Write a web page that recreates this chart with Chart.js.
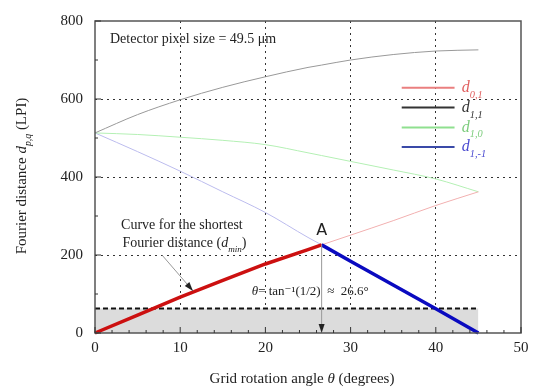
<!DOCTYPE html>
<html>
<head>
<meta charset="utf-8">
<script src="https://cdn.jsdelivr.net/npm/chart.js@4"></script>
<style>
  body { margin: 0; background: #fff; }
</style>
</head>
<body>
<canvas id="grafico" width="537" height="389"></canvas>
<script>
// angles (degrees) and Fourier distances (LPI)
const theta = [0, 5, 10, 15, 20, 25, 26.6, 30, 35, 40, 45];
const d01  = [0, 46, 92, 135, 177, 214, 226, 251, 288, 327, 362];
const d11  = [513, 560, 598, 630, 657, 681, 687, 700, 714, 723, 726];
const d10  = [513, 509, 502, 494, 483, 462, 455, 440, 418, 395, 362];
const d1m1 = [513, 465, 415, 362, 309, 245, 226, 184, 123, 62, 0];
const dLimit = 63;          // dashed level
const idxA = 6;             // point A (theta = 26.6)
const xTicks = [0, 10, 20, 30, 40, 50];
const yTicks = [0, 200, 400, 600, 800];

const pts = arr => theta.map((t, i) => ({ x: t, y: arr[i] }));
const serif = '"Liberation Serif", "DejaVu Serif", serif';

// draws text made of pieces: {t, italic, sub}
function richWidth(ctx, parts, size) {
  let w = 0;
  parts.forEach(p => {
    const s = p.sub ? size * 0.65 : size;
    ctx.font = (p.italic ? 'italic ' : '') + s + 'px ' + serif;
    w += ctx.measureText(p.t).width;
  });
  return w;
}
function richText(ctx, parts, x, y, size, color) {
  let cx = x;
  ctx.fillStyle = color;
  ctx.textBaseline = 'middle';
  ctx.textAlign = 'left';
  parts.forEach(p => {
    const s = p.sub ? size * 0.65 : size;
    ctx.font = (p.italic ? 'italic ' : '') + s + 'px ' + serif;
    ctx.fillText(p.t, cx, p.sub ? y + size * 0.45 : y);
    cx += ctx.measureText(p.t).width;
  });
}
function arrowHead(ctx, x1, y1, x2, y2, len, wid) {
  const a = Math.atan2(y2 - y1, x2 - x1);
  ctx.beginPath();
  ctx.moveTo(x2, y2);
  ctx.lineTo(x2 - len * Math.cos(a) + wid * Math.sin(a), y2 - len * Math.sin(a) - wid * Math.cos(a));
  ctx.lineTo(x2 - len * Math.cos(a) - wid * Math.sin(a), y2 - len * Math.sin(a) + wid * Math.cos(a));
  ctx.closePath();
  ctx.fill();
}

const extras = {
  id: 'extras',
  afterDatasetsDraw(chart) {
    const ctx = chart.ctx;
    const xs = chart.scales.x, ys = chart.scales.y;
    const ca = chart.chartArea;
    const X = v => xs.getPixelForValue(v), Y = v => ys.getPixelForValue(v);
    ctx.save();

    // frame
    ctx.strokeStyle = '#555';
    ctx.lineWidth = 1.5;
    ctx.strokeRect(ca.left, ca.top, ca.right - ca.left, ca.bottom - ca.top);

    // inward ticks
    ctx.lineWidth = 1;
    ctx.strokeStyle = '#333';
    ctx.beginPath();
    for (let v = 0; v <= 50; v += 2) {
      const len = v % 10 === 0 ? 6 : 3;
      ctx.moveTo(X(v), ca.bottom); ctx.lineTo(X(v), ca.bottom - len);
    }
    for (let v = 0; v <= 800; v += 100) {
      const len = v % 200 === 0 ? 6 : 3;
      ctx.moveTo(ca.left, Y(v)); ctx.lineTo(ca.left + len, Y(v));
    }
    ctx.stroke();

    // vertical arrow from A down to the axis
    ctx.strokeStyle = '#999';
    ctx.beginPath();
    ctx.moveTo(X(theta[idxA]), Y(d01[idxA]));
    ctx.lineTo(X(theta[idxA]), Y(0) - 6);
    ctx.stroke();
    ctx.fillStyle = '#222';
    arrowHead(ctx, X(theta[idxA]), Y(10), X(theta[idxA]), Y(0), 9, 3);

    // arrow to curve
    ctx.strokeStyle = '#999';
    ctx.beginPath();
    ctx.moveTo(X(7.9), Y(199));
    ctx.lineTo(X(11.5), Y(108));
    ctx.stroke();
    ctx.fillStyle = '#222';
    arrowHead(ctx, X(7.9), Y(199), X(11.5), Y(108), 9, 3);

    // texts
    richText(ctx, [{ t: 'Detector pixel size = 49.5 μm' }], X(1.76), Y(754), 14, '#222');
    ctx.font = '16px "DejaVu Sans", sans-serif';
    ctx.textAlign = 'center';
    ctx.fillStyle = '#222';
    ctx.fillText('A', X(26.6), Y(262));
    ctx.font = '14px ' + serif;
    ctx.fillText('Curve for the shortest', X(10.2), Y(275));
    const lab2 = [{ t: 'Fourier distance (' }, { t: 'd', italic: true }, { t: 'min', italic: true, sub: true }, { t: ')' }];
    const w2 = richWidth(ctx, lab2, 14);
    richText(ctx, lab2, X(10.5) - w2 / 2, Y(229), 14, '#222');
    richText(ctx, [{ t: 'θ', italic: true }, { t: '= tan⁻¹(1/2)  ≈  26.6°' }], X(18.4), Y(107), 13, '#222');

    // legend
    const leg = [
      { c: '#ea7f7f', tc: '#e06060', s: '0,1' },
      { c: '#333333', tc: '#333333', s: '1,1' },
      { c: '#8fe08f', tc: '#7ccc7c', s: '1,0' },
      { c: '#3a4aa8', tc: '#4a4ad0', s: '1,-1' }
    ];
    const legY = [629, 578, 527, 477];
    leg.forEach((l, i) => {
      ctx.strokeStyle = l.c;
      ctx.lineWidth = 2;
      ctx.beginPath();
      ctx.moveTo(X(36.0), Y(legY[i]));
      ctx.lineTo(X(42.2), Y(legY[i]));
      ctx.stroke();
      richText(ctx, [{ t: 'd', italic: true }, { t: l.s, italic: true, sub: true }], X(43.05), Y(legY[i]), 16, l.tc);
    });

    // axis titles
    const xt = [{ t: 'Grid rotation angle ' }, { t: 'θ', italic: true }, { t: ' (degrees)' }];
    const wx = richWidth(ctx, xt, 15);
    richText(ctx, xt, 302 - wx / 2, 379, 15, '#222');

    const yt = [{ t: 'Fourier distance ' }, { t: 'd', italic: true }, { t: 'p,q', italic: true, sub: true }, { t: ' (LPI)' }];
    const wy = richWidth(ctx, yt, 15);
    ctx.translate(22, 176);
    ctx.rotate(-Math.PI / 2);
    richText(ctx, yt, -wy / 2, 0, 15, '#222');

    ctx.restore();
  }
};

new Chart(document.getElementById('grafico'), {
  type: 'line',
  data: {
    datasets: [
      { data: pts(d01).slice(0, idxA + 1), borderColor: '#cc1010', borderWidth: 3.5 },
      { data: pts(d1m1).slice(idxA), borderColor: '#0a0ac0', borderWidth: 3.5 },
      { data: pts(d01), borderColor: '#f2b0b0', borderWidth: 1, cubicInterpolationMode: 'monotone' },
      { data: pts(d11), borderColor: '#999999', borderWidth: 1, cubicInterpolationMode: 'monotone' },
      { data: pts(d10), borderColor: '#b4f0b4', borderWidth: 1, cubicInterpolationMode: 'monotone' },
      { data: pts(d1m1), borderColor: '#bcbcee', borderWidth: 1, cubicInterpolationMode: 'monotone' },
      {
        data: [{ x: theta[0], y: dLimit }, { x: theta[theta.length - 1], y: dLimit }],
        borderColor: '#111', borderWidth: 2, borderDash: [5, 3],
        fill: 'origin', backgroundColor: '#dcdcdc'
      }
    ]
  },
  options: {
    responsive: false,
    animation: false,
    clip: false,
    layout: { padding: { left: 0, right: 16, top: 19, bottom: 0 } },
    elements: { point: { radius: 0 }, line: { tension: 0 } },
    plugins: {
      legend: { display: false },
      tooltip: { enabled: false },
      filler: { drawTime: 'beforeDatasetsDraw' }
    },
    scales: {
      x: {
        type: 'linear', min: 0, max: 50,
        afterBuildTicks: s => { s.ticks = xTicks.map(v => ({ value: v })); },
        afterFit: s => { s.height = 56; },
        ticks: { padding: 6, color: '#222', font: { family: serif, size: 15 } },
        grid: {
          drawTicks: false,
          color: c => (c.tick && (c.tick.value === 0 || c.tick.value === 50)) ? 'transparent' : '#333'
        },
        border: { display: false, dash: [2, 4] }
      },
      y: {
        min: 0, max: 800,
        afterBuildTicks: s => { s.ticks = yTicks.map(v => ({ value: v })); },
        afterFit: s => { s.width = 95; },
        ticks: { padding: 12, color: '#222', font: { family: serif, size: 15 } },
        grid: {
          drawTicks: false,
          color: c => (c.tick && (c.tick.value === 0 || c.tick.value === 800)) ? 'transparent' : '#333'
        },
        border: { display: false, dash: [2, 4] }
      }
    }
  },
  plugins: [extras]
});
</script>
</body>
</html>
